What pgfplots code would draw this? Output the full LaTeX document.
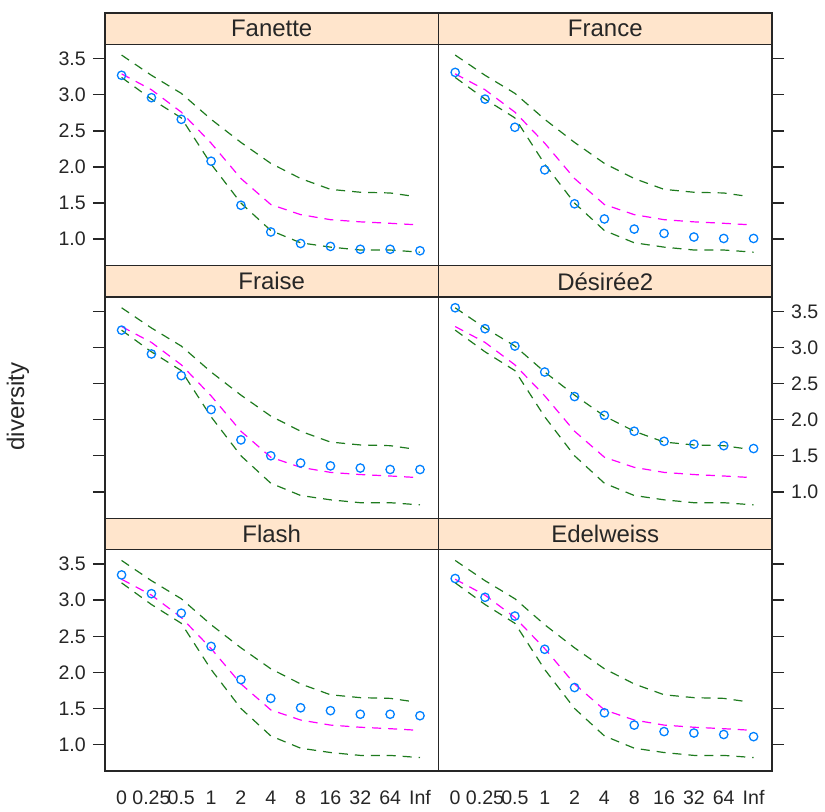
\documentclass[border=0pt]{standalone}
\usepackage{fontspec}
\setmainfont{Liberation Sans}
\usepackage{pgfplots}
\usepackage{pgfplotstable}
\pgfplotsset{compat=1.18}

\definecolor{envgreen}{HTML}{1E7B1E}
\definecolor{midmag}{HTML}{FF00FF}
\definecolor{ptblue}{HTML}{0080FF}
\definecolor{stripbg}{HTML}{FFE5CC}
\definecolor{boxcol}{HTML}{262626}

% simulation envelope (same in every panel)
\pgfplotstableread{
x  xh    lo    mid   hi
0  0     3.24  3.29  3.55
1  1     2.94  3.07  3.27
2  2     2.68  2.76  3.02
3  3     2.04  2.33  2.66
4  4     1.50  1.84  2.34
5  5     1.12  1.48  2.05
6  6     0.95  1.34  1.84
7  7     0.89  1.27  1.69
8  8     0.85  1.24  1.65
9  9     0.85  1.22  1.64
10 9.85  0.82  1.20  1.59
}\envelope

% observed diversity per variety
\pgfplotstableread{
x  Fanette France Fraise Desiree Flash Edelweiss
0  3.27    3.31   3.24   3.55    3.35  3.30
1  2.96    2.94   2.91   3.26    3.09  3.04
2  2.66    2.55   2.61   3.02    2.82  2.78
3  2.08    1.96   2.14   2.66    2.36  2.32
4  1.47    1.49   1.72   2.32    1.90  1.79
5  1.10    1.28   1.50   2.06    1.64  1.44
6  0.94    1.14   1.40   1.84    1.51  1.27
7  0.90    1.08   1.36   1.70    1.47  1.18
8  0.86    1.03   1.33   1.66    1.42  1.16
9  0.86    1.01   1.31   1.64    1.42  1.14
10 0.84    1.01   1.31   1.60    1.40  1.11
}\points

\pgfplotsset{
  panel/.style={
    scale only axis, width=167pt, height=110.85pt,
    xmin=-0.56, xmax=10.62, ymin=0.633, ymax=3.70,
    axis line style={boxcol, line width=0.7pt},
    tick align=outside, major tick length=6pt,
    tick style={boxcol, line width=0.7pt},
    ytick={1,1.5,2,2.5,3,3.5},
    yticklabels={1.0,1.5,2.0,2.5,3.0,3.5},
    tick label style={font=\fontsize{9.8}{11}\selectfont, text=black!85},
    xtick=\empty,
    clip=false,
  },
  leftlab/.style={ytick pos=left, yticklabel pos=left},
  leftnolab/.style={ytick pos=left, yticklabels={}},
  rightlab/.style={ytick pos=right, yticklabel pos=right},
  rightnolab/.style={ytick pos=right, yticklabels={}},
  bottomlab/.style={
    xtick={0,...,10},
    xticklabels={0,0.25,0.5,1,2,4,8,16,32,64,Inf},
    x tick style={draw=none},
    xticklabel style={text height=7.2pt, text depth=0pt},
  },
  envline/.style={envgreen, line width=0.6pt, dash pattern=on 4.5pt off 3.5pt},
  midline/.style={midmag, line width=0.6pt, dash pattern=on 4.5pt off 3.5pt},
  pts/.style={only marks, mark=o, mark size=2.1pt, ptblue, mark options={line width=0.65pt}},
}

\newcommand{\envplots}{%
  \addplot[envline] table[x=xh, y=hi] {\envelope};
  \addplot[midline] table[x=xh, y=mid] {\envelope};
  \addplot[envline] table[x=x, y=lo] {\envelope};
}
\newcommand{\strip}[2]{%
  \draw[fill=stripbg, draw=boxcol, line width=0.7pt] (#1.north west) rectangle ([yshift=15.65pt]#1.north east);
  \node[font=\fontsize{12}{14}\selectfont, text=black!85] at ([yshift=7.8pt]#1.north) {#2};
}

\begin{document}
\begin{tikzpicture}
\path (0,0) rectangle (412.5pt,403pt);

\begin{axis}[panel, leftlab, name=p1, at={(52.5pt,270pt)}, anchor=south west]
\envplots
\addplot[pts] table[x=x, y=Fanette] {\points};
\end{axis}

\begin{axis}[panel, rightnolab, name=p2, at={(219.5pt,270pt)}, anchor=south west]
\envplots
\addplot[pts] table[x=x, y=France] {\points};
\end{axis}

\begin{axis}[panel, leftnolab, name=p3, at={(52.5pt,143.5pt)}, anchor=south west]
\envplots
\addplot[pts] table[x=x, y=Fraise] {\points};
\end{axis}

\begin{axis}[panel, rightlab, name=p4, at={(219.5pt,143.5pt)}, anchor=south west]
\envplots
\addplot[pts] table[x=x, y=Desiree] {\points};
\end{axis}

\begin{axis}[panel, leftlab, bottomlab, name=p5, at={(52.5pt,17pt)}, anchor=south west]
\envplots
\addplot[pts] table[x=x, y=Flash] {\points};
\end{axis}

\begin{axis}[panel, rightnolab, bottomlab, name=p6, at={(219.5pt,17pt)}, anchor=south west]
\envplots
\addplot[pts] table[x=x, y=Edelweiss] {\points};
\end{axis}

\strip{p1}{Fanette}
\strip{p2}{France}
\strip{p3}{Fraise}
\strip{p4}{Désirée2}
\strip{p5}{Flash}
\strip{p6}{Edelweiss}

\node[rotate=90, font=\fontsize{12}{14}\selectfont, text=black!85] at (9pt,199.5pt) {diversity};
\end{tikzpicture}
\end{document}
